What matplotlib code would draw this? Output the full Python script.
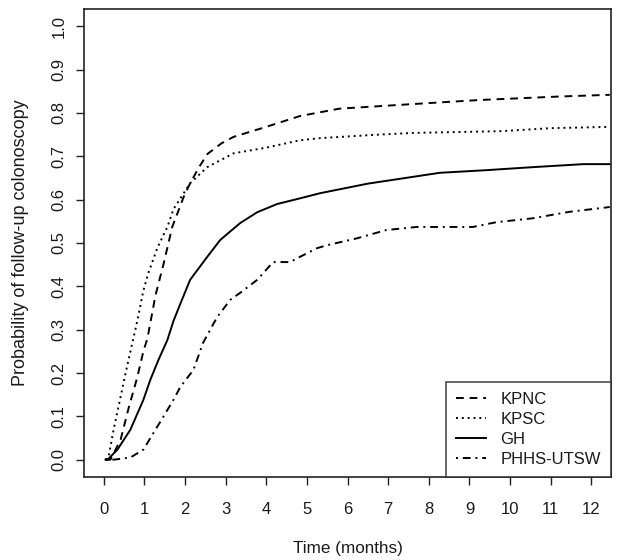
import matplotlib
matplotlib.use("Agg")
from matplotlib import pyplot as plt

plt.rcParams['font.family'] = ['Liberation Sans', 'DejaVu Sans']

# curves (months, cumulative probability)
months_kpnc = [0.05, 0.17, 0.42, 0.62, 0.83, 0.98, 1.08, 1.28, 1.48, 1.69, 1.97, 2.13,
               2.35, 2.55, 2.9, 3.2, 4.0, 4.83, 5.8, 7.5, 9.25, 11.2, 12.45]
kpnc = [0, 0, 0.046, 0.12, 0.19, 0.25, 0.28, 0.38, 0.453, 0.537, 0.606, 0.638,
        0.675, 0.705, 0.73, 0.745, 0.768, 0.793, 0.81, 0.82, 0.83, 0.838, 0.842]

months_kpsc = [0.05, 0.12, 0.25, 0.42, 0.59, 0.83, 0.98, 1.1, 1.33, 1.57, 1.72, 2.13,
               2.55, 3.2, 4.0, 4.83, 5.33, 6.55, 7.6, 9.75, 11.0, 12.45]
kpsc = [0, 0.005, 0.07, 0.145, 0.22, 0.32, 0.39, 0.43, 0.49, 0.537, 0.578, 0.638,
        0.675, 0.707, 0.72, 0.737, 0.742, 0.749, 0.754, 0.758, 0.765, 0.768]

months_gh = [0.05, 0.1, 0.34, 0.66, 0.98, 1.15, 1.35, 1.57, 1.72, 1.89, 2.13, 2.55,
             2.87, 3.36, 3.78, 4.27, 4.83, 5.33, 6.5, 8.27, 9.4, 10.55, 11.8, 12.45]
gh = [0, 0, 0.023, 0.069, 0.138, 0.184, 0.23, 0.276, 0.32, 0.36, 0.415, 0.468,
      0.507, 0.546, 0.571, 0.59, 0.603, 0.615, 0.637, 0.662, 0.668, 0.675, 0.682, 0.682]

months_phhs = [0.05, 0.25, 0.66, 0.98, 1.23, 1.4, 1.72, 1.89, 2.21, 2.45, 2.8, 3.12,
               3.36, 3.78, 4.17, 4.59, 4.83, 5.25, 5.5, 6.2, 6.96, 7.7, 9.08, 9.66,
               10.55, 11.46, 12.45]
phhs = [0, 0, 0.005, 0.023, 0.062, 0.088, 0.138, 0.168, 0.207, 0.27, 0.33, 0.369,
        0.385, 0.415, 0.456, 0.456, 0.468, 0.488, 0.495, 0.51, 0.53, 0.537, 0.537, 0.548,
        0.557, 0.572, 0.583]

labels = ["KPNC", "KPSC", "GH", "PHHS-UTSW"]
x_ticks = list(range(0, 13))
y_ticks = [0.0, 0.1, 0.2, 0.3, 0.4, 0.5, 0.6, 0.7, 0.8, 0.9, 1.0]

fig = plt.figure(figsize=(6.24, 5.6), dpi=100)
ax = fig.add_axes([84 / 624, 1 - 477 / 560, (611 - 84) / 624, (477 - 9) / 560])

styles = [(0, (4, 3)), (0, (1, 2)), '-', (0, (1, 2.5, 4, 2.5))]
series = [(months_kpnc, kpnc), (months_kpsc, kpsc), (months_gh, gh), (months_phhs, phhs)]
for (mx, my), ls, lab in zip(series, styles, labels):
    ax.plot(mx, my, color='black', linestyle=ls, linewidth=1.4, label=lab)

ax.set_xlim(-0.48, 12.48)
ax.set_ylim(-0.04, 1.04)
ax.set_xticks(x_ticks)
ax.set_xticklabels([str(t) for t in x_ticks])
ax.set_yticks(y_ticks)
ax.set_yticklabels([f"{t:.1f}" for t in y_ticks], rotation=90, va='center')
ax.tick_params(axis='both', length=5.5, width=1, labelsize=12, color='#222222',
               labelcolor='#1a1a1a')
ax.tick_params(axis='x', pad=12.5)
ax.tick_params(axis='y', pad=7)
for s in ax.spines.values():
    s.set_linewidth(1.2)
    s.set_color('#222222')

ax.set_xlabel("Time (months)", fontsize=12.3, labelpad=17.5, color='#1a1a1a')
ax.set_ylabel("Probability of follow-up colonoscopy", fontsize=13, labelpad=16,
              color='#1a1a1a')

leg = ax.legend(loc='lower right', borderaxespad=0, fontsize=12, frameon=True,
                fancybox=False, handlelength=1.8, handletextpad=0.9,
                labelspacing=0.3, borderpad=0.6)
leg.get_frame().set_edgecolor('#222222')
leg.get_frame().set_linewidth(1.2)
for t in leg.get_texts():
    t.set_color('#1a1a1a')

fig.savefig("out.png", dpi=100)
